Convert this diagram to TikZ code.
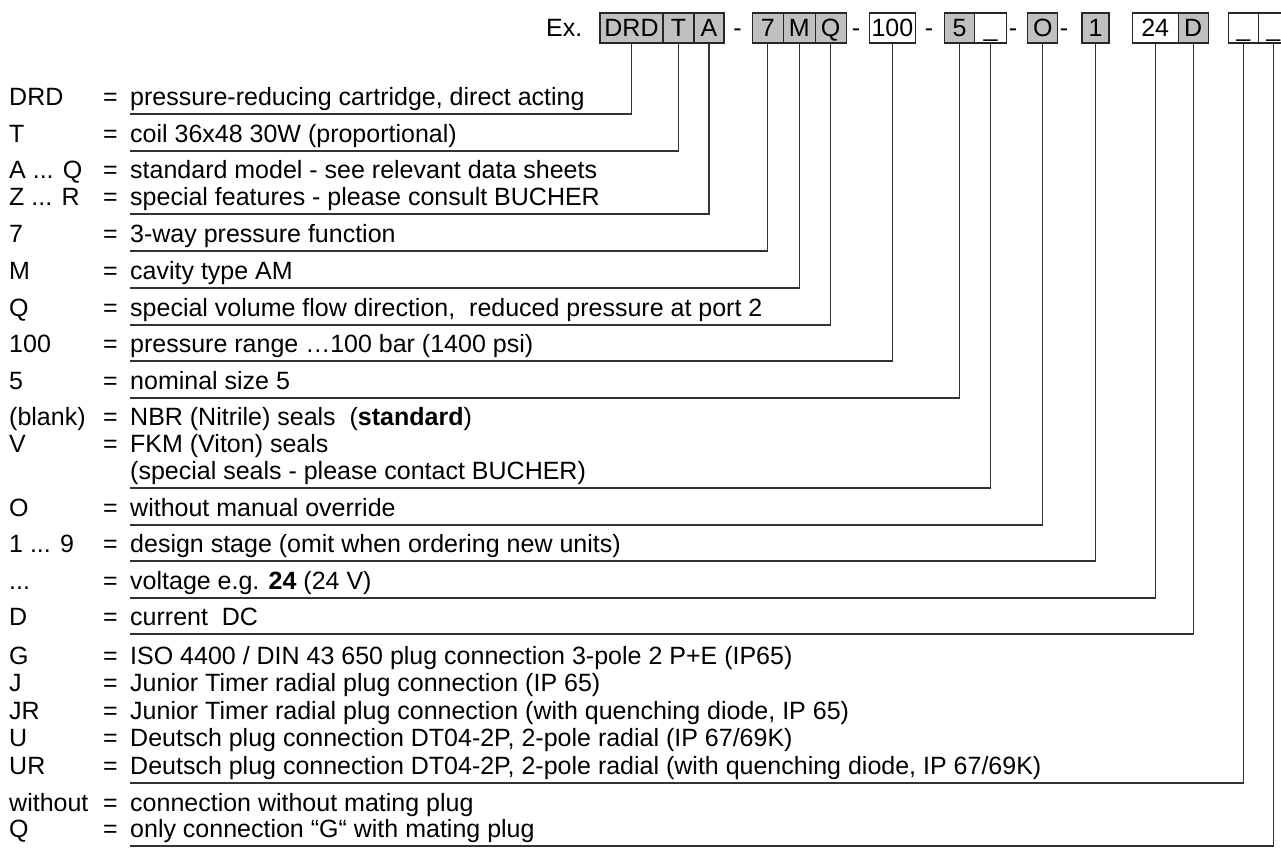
\documentclass[tikz,border=0pt]{standalone}
\usepackage{fontspec}
\setmainfont{Liberation Sans}
\usepackage{tikz}
\usetikzlibrary{positioning}
\usepackage{xcolor}
\definecolor{keygray}{HTML}{C0C0C0}

\begin{document}
\begin{tikzpicture}[x=1pt,y=-1pt,font=\fontsize{25}{28}\selectfont,
key/.style={rectangle,draw=black!85,line width=1.2pt,minimum height=30pt,
        inner sep=0pt,text height=18pt,text depth=0pt},
set/.style={key,fill=keygray},
free/.style={key,fill=white},
code/.style={inner sep=0pt,anchor=base west,yshift=1.5pt},
sep/.style={inner sep=0pt,anchor=base},
lead/.style={draw=black!80,line width=1.2pt}]
\useasboundingbox (0,0) rectangle (1281,848);

% ordering code
\node[sep,anchor=base west] (ex) at (546,37) {Ex.};
\node[set,minimum width=63pt] (bDRD) at (631.5,28) {DRD};
\node[set,minimum width=31pt,right=-\pgflinewidth of bDRD] (bT) {T};
\node[set,minimum width=30pt,right=-\pgflinewidth of bT] (bA) {A};
\node[set,minimum width=31pt,right=27pt of bA] (b7) {7};
\node[set,minimum width=32pt,right=-\pgflinewidth of b7] (bM) {M};
\node[set,minimum width=31pt,right=-\pgflinewidth of bM] (bQ) {Q};
\node[free,minimum width=46pt,right=22pt of bQ] (b100) {100};
\node[set,minimum width=30pt,right=28pt of b100] (b5) {5};
\node[free,minimum width=32pt,right=-\pgflinewidth of b5] (bS) {\_};
\node[set,minimum width=30pt,right=20pt of bS] (bO) {O};
\node[set,minimum width=27pt,right=23pt of bO] (b1) {1};
\node[free,minimum width=46pt,right=22pt of b1] (b24) {24};
\node[set,minimum width=30pt,right=-\pgflinewidth of b24] (bD) {D};
\node[free,minimum width=30pt,right=19pt of bD] (bP) {\_};
\node[free,minimum width=30pt,right=-\pgflinewidth of bP] (bM2) {\_};

\node[sep] (s1) at (737.5,37) {-};
\node[sep] (s2) at (856,37) {-};
\node[sep] (s3) at (929,37) {-};
\node[sep] (s4) at (1013,37) {-};
\node[sep] (s5) at (1064,37) {-};

% legend
\node[code] (cDRD) at (9,107) {DRD};
\node[code] (eDRD) at (103,107) {=};
\node[code] (dDRD) at (130,107) {pressure-reducing cartridge, direct acting};
\coordinate (uDRD) at (130,114);

\node[code] (cT) at (9,144) {T};
\node[code] (eT) at (103,144) {=};
\node[code] (dT) at (130,144) {coil 36x48 30W (proportional)};
\coordinate (uT) at (130,151);

\node[code] (cA) at (9,180) {A ... Q};
\node[code] (eA) at (103,180) {=};
\node[code] (dA) at (130,180) {standard model - see relevant data sheets};
\node[code] (cZ) at (9,207) {Z ... R};
\node[code] (eZ) at (103,207) {=};
\node[code] (dZ) at (130,207) {special features - please consult BUCHER};
\coordinate (uA) at (130,214);

\node[code] (c7) at (9,244) {7};
\node[code] (e7) at (103,244) {=};
\node[code] (d7) at (130,244) {3-way pressure function};
\coordinate (u7) at (130,251);

\node[code] (cM) at (9,281) {M};
\node[code] (eM) at (103,281) {=};
\node[code] (dM) at (130,281) {cavity type AM};
\coordinate (uM) at (130,288);

\node[code] (cQ) at (9,318) {Q};
\node[code] (eQ) at (103,318) {=};
\node[code] (dQ) at (130,318) {special volume flow direction,\ \ reduced pressure at port 2};
\coordinate (uQ) at (130,325);

\node[code] (c100) at (9,354) {100};
\node[code] (e100) at (103,354) {=};
\node[code] (d100) at (130,354) {pressure range …100 bar (1400 psi)};
\coordinate (u100) at (130,361);

\node[code] (c5) at (9,391) {5};
\node[code] (e5) at (103,391) {=};
\node[code] (d5) at (130,391) {nominal size 5};
\coordinate (u5) at (130,398);

\node[code] (cS) at (9,427) {(blank)};
\node[code] (eS) at (103,427) {=};
\node[code] (dS) at (130,427) {NBR (Nitrile) seals\ \ (\textbf{standard})};
\node[code] (cV) at (9,454) {V};
\node[code] (eV) at (103,454) {=};
\node[code] (dV) at (130,454) {FKM (Viton) seals};
\node[code] (dV2) at (130,481) {(special seals - please contact BUCHER)};
\coordinate (uS) at (130,488);

\node[code] (cO) at (9,518) {O};
\node[code] (eO) at (103,518) {=};
\node[code] (dO) at (130,518) {without manual override};
\coordinate (uO) at (130,525);

\node[code] (c1) at (9,554) {1 ... 9};
\node[code] (e1) at (103,554) {=};
\node[code] (d1) at (130,554) {design stage (omit when ordering new units)};
\coordinate (u1) at (130,561);

\node[code] (c24) at (9,591) {...};
\node[code] (e24) at (103,591) {=};
\node[code] (d24) at (130,591) {voltage e.g. \textbf{24} (24 V)};
\coordinate (u24) at (130,598);

\node[code] (cD) at (9,627) {D};
\node[code] (eD) at (103,627) {=};
\node[code] (dD) at (130,627) {current\ \ DC};
\coordinate (uD) at (130,634);

\node[code] (cG) at (9,666) {G};
\node[code] (eG) at (103,666) {=};
\node[code] (dG) at (130,666) {ISO 4400 / DIN 43 650 plug connection 3-pole 2 P+E (IP65)};
\node[code] (cJ) at (9,693) {J};
\node[code] (eJ) at (103,693) {=};
\node[code] (dJ) at (130,693) {Junior Timer radial plug connection (IP 65)};
\node[code] (cJR) at (9,721) {JR};
\node[code] (eJR) at (103,721) {=};
\node[code] (dJR) at (130,721) {Junior Timer radial plug connection (with quenching diode, IP 65)};
\node[code] (cU) at (9,748) {U};
\node[code] (eU) at (103,748) {=};
\node[code] (dU) at (130,748) {Deutsch plug connection DT04-2P, 2-pole radial (IP 67/69K)};
\node[code] (cUR) at (9,776) {UR};
\node[code] (eUR) at (103,776) {=};
\node[code] (dUR) at (130,776) {Deutsch plug connection DT04-2P, 2-pole radial (with quenching diode, IP 67/69K)};
\coordinate (uP) at (130,783);

\node[code] (cW) at (9,813) {without};
\node[code] (eW) at (103,813) {=};
\node[code] (dW) at (130,813) {connection without mating plug};
\node[code] (cQ2) at (9,839) {Q};
\node[code] (eQ2) at (103,839) {=};
\node[code] (dQ2) at (130,839) {only connection “G“ with mating plug};
\coordinate (uW) at (130,846);

% leaders
\draw[lead] (bDRD.south) |- (uDRD);
\draw[lead] (bT.south) |- (uT);
\draw[lead] (bA.south) |- (uA);
\draw[lead] (b7.south) |- (u7);
\draw[lead] (bM.south) |- (uM);
\draw[lead] (bQ.south) |- (uQ);
\draw[lead] (b100.south) |- (u100);
\draw[lead] (b5.south) |- (u5);
\draw[lead] (bS.south) |- (uS);
\draw[lead] (bO.south) |- (uO);
\draw[lead] (b1.south) |- (u1);
\draw[lead] (b24.south) |- (u24);
\draw[lead] (bD.south) |- (uD);
\draw[lead] (bP.south) |- (uP);
\draw[lead] (bM2.south) |- (uW);

\end{tikzpicture}
\end{document}
